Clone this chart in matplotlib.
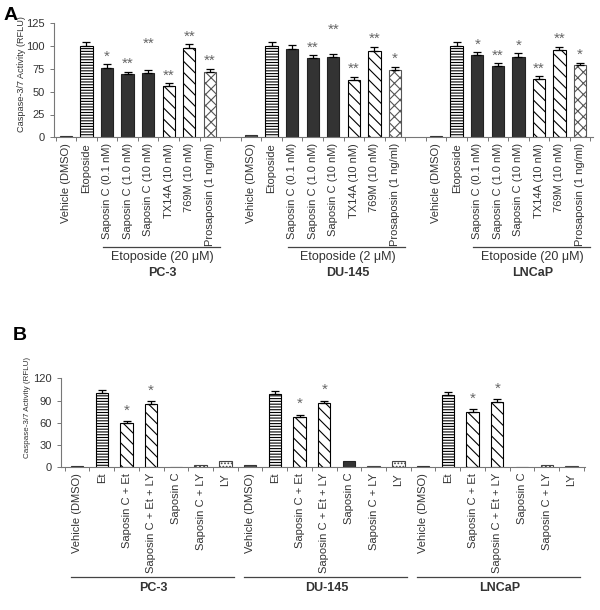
import matplotlib.pyplot as plt
import numpy as np

plt.rcParams['font.family'] = ['Liberation Sans', 'DejaVu Sans']
plt.rcParams['hatch.linewidth'] = 0.8

# ---- panel A data ----
a_labels = ['Vehicle (DMSO)', 'Etoposide', 'Saposin C (0.1 nM)', 'Saposin C (1.0 nM)',
            'Saposin C (10 nM)', 'TX14A (10 nM)', '769M (10 nM)', 'Prosaposin (1 ng/ml)']
a_cells = ['PC-3', 'DU-145', 'LNCaP']
a_treat = ['Etoposide (20 \u03bcM)', 'Etoposide (2 \u03bcM)', 'Etoposide (20 \u03bcM)']
a_pc3 = [1, 100, 76, 69, 71, 56, 98, 72]
a_pc3_err = [0.5, 4, 4, 3, 3, 3, 4, 3]
a_pc3_stars = ['', '', '*', '**', '**', '**', '**', '**']
a_du145 = [2, 100, 97, 87, 88, 63, 95, 74]
a_du145_err = [0.5, 4, 4, 3, 3, 3, 4, 3]
a_du145_stars = ['', '', '', '**', '**', '**', '**', '*']
a_lncap = [1, 100, 90, 78, 88, 64, 96, 79]
a_lncap_err = [0.5, 4, 3, 3, 4, 3, 3, 3]
a_lncap_stars = ['', '', '*', '**', '*', '**', '**', '*']

# ---- panel B data ----
b_labels = ['Vehicle (DMSO)', 'Et', 'Saposin C + Et', 'Saposin C + Et + LY',
            'Saposin C', 'Saposin C + LY', 'LY']
b_cells = ['PC-3', 'DU-145', 'LNCaP']
b_pc3 = [2, 100, 60, 86, 1, 3.5, 8]
b_pc3_err = [0, 4, 2, 3, 0, 0, 0]
b_du145 = [2.5, 99, 68, 87, 8, 1.5, 9]
b_du145_err = [0, 4, 3, 3, 0, 0, 0]
b_lncap = [1.5, 98, 74, 88, 0.5, 3, 2]
b_lncap_err = [0, 4, 4, 4, 0, 0, 0]
b_stars = ['', '', '*', '*', '', '', '']

txt = '#333333'
spine = '#777777'
star_col = '#666666'

# bar styles (fill, hatch, edge)
a_style = [('#555555', None, '#333333'),
           ('white', '------', 'black'),
           ('#333333', None, '#222222'),
           ('#333333', None, '#222222'),
           ('#333333', None, '#222222'),
           ('white', '\\' * 3, 'black'),
           ('white', '\\' * 3, 'black'),
           ('white', 'xxx', '#555555')]
b_style = [('#555555', None, '#333333'),
           ('white', '------', 'black'),
           ('white', '\\' * 3, 'black'),
           ('white', '\\' * 3, 'black'),
           ('#333333', None, '#222222'),
           ('white', '....', '#444444'),
           ('white', '.....', '#444444')]

fig = plt.figure(figsize=(6, 6.1), dpi=100)


def style_axis(ax):
    for s in ['top', 'right']:
        ax.spines[s].set_visible(False)
    for s in ['left', 'bottom']:
        ax.spines[s].set_color(spine)
        ax.spines[s].set_linewidth(0.8)
    ax.tick_params(axis='y', colors=spine, labelcolor=txt, labelsize=8, length=3, width=0.7)
    ax.tick_params(axis='x', which='major', length=0, labelsize=8, labelcolor=txt, pad=4)
    ax.tick_params(axis='x', which='minor', length=3, width=0.7, colors=spine)


# ---------------- panel A ----------------
axA = fig.add_axes([54 / 600, 1 - 137.3 / 610, 539 / 600, 114 / 610])
groupsA = [(a_pc3, a_pc3_err, a_pc3_stars), (a_du145, a_du145_err, a_du145_stars),
           (a_lncap, a_lncap_err, a_lncap_stars)]
raised = {(0, 4): 20, (1, 4): 18}  # star labels drawn higher in the original
ticks, ticklabels = [], []
for g, (vals, errs, stars) in enumerate(groupsA):
    x0 = g * 9
    for i in range(len(vals)):
        fc, h, ec = a_style[i]
        x = x0 + i
        axA.bar(x, vals[i], 0.6, color=fc, hatch=h, edgecolor=ec, linewidth=0.8)
        if errs[i] > 0.5:
            axA.errorbar(x, vals[i], yerr=[[0], [errs[i]]], fmt='none', ecolor='black',
                         elinewidth=0.9, capsize=3, capthick=0.9)
        if stars[i]:
            y = vals[i] + errs[i] + 1 + raised.get((g, i), 0)
            axA.text(x, y, stars[i], ha='center', va='bottom', fontsize=11, color=star_col)
        ticks.append(x)
        ticklabels.append(a_labels[i])
    # treatment bracket
    axA.plot([x0 + 1.8, x0 + 7.5], [-0.962, -0.962], color='#444444', lw=0.9,
             transform=axA.get_xaxis_transform(), clip_on=False)
    axA.text(x0 + 4.7, -1.0, a_treat[g], ha='center', va='top', fontsize=9, color=txt,
             transform=axA.get_xaxis_transform())
    axA.text(x0 + 4.7, -1.14, a_cells[g], ha='center', va='top', fontsize=9,
             fontweight='bold', color=txt, transform=axA.get_xaxis_transform())

axA.set_xlim(-0.58, 25.63)
axA.set_ylim(0, 125)
axA.set_yticks(np.arange(0, 126, 25))
axA.set_xticks(ticks)
axA.set_xticklabels(ticklabels, rotation=90)
axA.set_xticks(np.arange(-0.5, 26, 1), minor=True)
style_axis(axA)
fig.text(22 / 600, 1 - 74 / 610, 'Caspase-3/7 Activity (RFLU)', rotation=90,
         ha='center', va='center', fontsize=6.6, color=txt)
fig.text(11 / 600, 1 - 15 / 610, 'A', fontsize=14, fontweight='bold', ha='center', va='center')

# ---------------- panel B ----------------
axB = fig.add_axes([61 / 600, 1 - 467.3 / 610, 524 / 600, 89 / 610])
groupsB = [(b_pc3, b_pc3_err), (b_du145, b_du145_err), (b_lncap, b_lncap_err)]
ticks, ticklabels = [], []
for g, (vals, errs) in enumerate(groupsB):
    x0 = g * 7
    for i in range(len(vals)):
        fc, h, ec = b_style[i]
        x = x0 + i
        axB.bar(x, vals[i], 0.5, color=fc, hatch=h, edgecolor=ec, linewidth=0.8)
        if errs[i] > 0:
            axB.errorbar(x, vals[i], yerr=[[0], [errs[i]]], fmt='none', ecolor='black',
                         elinewidth=0.9, capsize=3, capthick=0.9)
        if b_stars[i]:
            axB.text(x, vals[i] + errs[i] + 5, b_stars[i], ha='center', va='bottom',
                     fontsize=11, color=star_col)
        ticks.append(x)
        ticklabels.append(b_labels[i])
    axB.plot([x0 - 0.25, x0 + 6.35], [-1.233, -1.233], color='#444444', lw=0.9,
             transform=axB.get_xaxis_transform(), clip_on=False)
    axB.text(x0 + 3.1, -1.29, b_cells[g], ha='center', va='top', fontsize=9,
             fontweight='bold', color=txt, transform=axB.get_xaxis_transform())

axB.set_xlim(-0.65, 20.55)
axB.set_ylim(0, 120)
axB.set_yticks(np.arange(0, 121, 30))
axB.set_xticks(ticks)
axB.set_xticklabels(ticklabels, rotation=90)
axB.set_xticks(np.arange(-0.5, 21, 1), minor=True)
style_axis(axB)
fig.text(28 / 600, 1 - 407 / 610, 'Caspase-3/7 Activity (RFLU)', rotation=90,
         ha='center', va='center', fontsize=5.8, color=txt)
fig.text(20 / 600, 1 - 335 / 610, 'B', fontsize=14, fontweight='bold', ha='center', va='center')

fig.savefig('out.png', dpi=100)
